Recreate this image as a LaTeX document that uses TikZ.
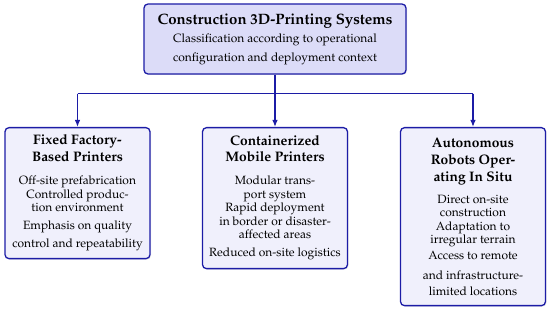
\documentclass[tikz,border=0pt]{standalone}
\usepackage[T1]{fontenc}
\usepackage{mathpazo}
\usetikzlibrary{arrows.meta,positioning,shadows}
\definecolor{edgeblue}{HTML}{1C1CA6}
\definecolor{rootfill}{HTML}{DCDCF8}
\definecolor{leaffill}{HTML}{F0F0FC}
\newcommand\boxhead[1]{{\fontsize{13.8}{16}\selectfont\bfseries #1}}

\begin{document}
\begin{tikzpicture}[x=1pt,y=1pt,
    font=\fontsize{12}{13.5}\selectfont,
    box/.style={draw=edgeblue,line width=1.3pt,rounded corners=4pt,align=center,inner sep=3pt,
      drop shadow={opacity=0.18,shadow xshift=1pt,shadow yshift=-1pt}},
    root/.style={box,fill=rootfill,minimum width=262pt,minimum height=70pt,
      font=\fontsize{12}{19}\selectfont},
    leaf/.style={box,fill=leaffill,anchor=north,minimum width=145pt},
    arr/.style={-{Latex[length=7pt,width=5.5pt]},draw=edgeblue,fill=edgeblue,line width=1.3pt},
    bus/.style={draw=edgeblue,line width=1.3pt},
  ]
  \useasboundingbox (0,0) rectangle (550,-310);

  \node[root] (sys) at (275,-39) {{\fontsize{15}{17}\selectfont\bfseries Construction 3D-Printing Systems}\\[-1pt]
    Classification according to operational\\configuration and deployment context};

  \node[leaf,minimum height=131pt] (fixed) at (77.5,-127) {\boxhead{Fixed Factory-}\\[2.5pt]\boxhead{Based Printers}\\[9.5pt]
    Off-site prefabrication\\Controlled produc-\\tion environment\\[4.5pt]
    Emphasis on quality\\[4.5pt]control and repeatability};
  \node[leaf,minimum height=141pt] (mobile) at (275,-127) {\boxhead{Containerized}\\[2.5pt]\boxhead{Mobile Printers}\\[9.5pt]
    Modular trans-\\port system\\Rapid deployment\\in border or disaster-\\affected areas\\[4.5pt]
    Reduced on-site logistics};
  \node[leaf,minimum height=178pt] (insitu) at (473,-127) {\boxhead{Autonomous}\\[4pt]\boxhead{Robots Oper-}\\[3pt]\boxhead{ating In Situ}\\[8.5pt]
    Direct on-site\\construction\\Adaptation to\\irregular terrain\\[2.5pt]
    Access to remote\\[6.5pt]and infrastructure-\\[2.5pt]limited locations};

  % distribution bus
  \coordinate (busmid) at ([yshift=-19pt]sys.south);
  \draw[bus] (sys.south) -- (busmid);
  \draw[bus] (fixed.north |- busmid) -- (insitu.north |- busmid);
  \draw[arr] (fixed.north |- busmid) -- (fixed.north);
  \draw[arr] (busmid) -- (mobile.north);
  \draw[arr] (insitu.north |- busmid) -- (insitu.north);
\end{tikzpicture}
\end{document}
